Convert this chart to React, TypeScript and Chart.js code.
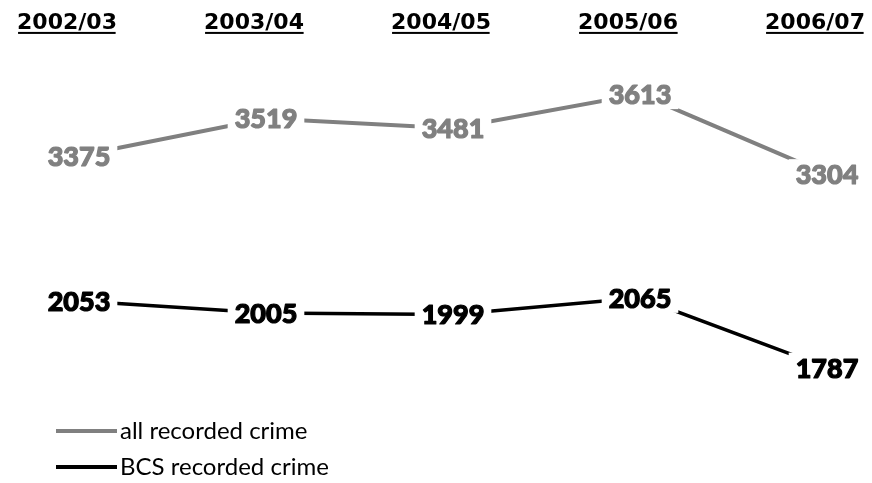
import React, { useEffect, useRef } from "react";
import { Chart, registerables } from "chart.js";

Chart.register(...registerables);

const categories = ["2002/03", "2003/04", "2004/05", "2005/06", "2006/07"];
const allRecordedCrime = [3375, 3519, 3481, 3613, 3304];
const bcsRecordedCrime = [2053, 2005, 1999, 2065, 1787];
const seriesNames = ["all recorded crime", "BCS recorded crime"];

const GRAY = "#808080";
const BLACK = "#000000";

const pointLabelPlugin = {
  id: "pointLabels",
  afterDatasetsDraw(chart: any) {
    const ctx = chart.ctx;
    ctx.save();
    ctx.font = "900 27px Lato";
    ctx.textAlign = "center";
    ctx.textBaseline = "alphabetic";
    chart.data.datasets.forEach((ds: any, i: number) => {
      const meta = chart.getDatasetMeta(i);
      meta.data.forEach((pt: any, j: number) => {
        const text = String(ds.data[j]);
        const w = ctx.measureText(text).width;
        ctx.fillStyle = "#ffffff";
        ctx.fillRect(pt.x - w / 2 - 7, pt.y - 15, w + 14, 30);
        ctx.fillStyle = ds.borderColor;
        ctx.strokeStyle = ds.borderColor;
        ctx.lineWidth = 1.2;
        ctx.lineJoin = "round";
        ctx.fillText(text, pt.x, pt.y + 10);
        ctx.strokeText(text, pt.x, pt.y + 10);
      });
    });
    ctx.restore();
  },
};

const underlinePlugin = {
  id: "tickUnderline",
  afterDraw(chart: any) {
    const sc = chart.scales.x;
    if (!sc || typeof sc.getLabelItems !== "function") return;
    const ctx = chart.ctx;
    const items = sc.getLabelItems();
    ctx.save();
    items.forEach((it: any) => {
      const o = it.options;
      const [tx, ty] = o.translation;
      ctx.font = it.font.string;
      ctx.textAlign = o.textAlign;
      ctx.textBaseline = o.textBaseline;
      const label = Array.isArray(it.label) ? it.label[0] : it.label;
      const m = ctx.measureText(label);
      const y = ty + (it.textOffset || 0) + m.actualBoundingBoxDescent + 1;
      ctx.fillStyle = "#000";
      ctx.fillRect(tx - m.actualBoundingBoxLeft, y, m.actualBoundingBoxLeft + m.actualBoundingBoxRight, 2);
    });
    ctx.restore();
  },
};

const legendPlugin = {
  id: "bottomLegend",
  afterDraw(chart: any) {
    const ctx = chart.ctx;
    const rows = [431, 467];
    ctx.save();
    chart.data.datasets.forEach((ds: any, i: number) => {
      const y = rows[i];
      ctx.strokeStyle = ds.borderColor;
      ctx.lineWidth = 4;
      ctx.beginPath();
      ctx.moveTo(56, y);
      ctx.lineTo(117, y);
      ctx.stroke();
      ctx.font = "24px Lato";
      ctx.fillStyle = "#000";
      ctx.textAlign = "left";
      ctx.textBaseline = "middle";
      ctx.fillText(ds.label, 120, y);
    });
    ctx.restore();
  },
};

export default function App() {
  const ref = useRef<HTMLCanvasElement | null>(null);
  useEffect(() => {
    document.body.style.margin = "0";
    const canvas = ref.current;
    if (!canvas) return;
    const chart = new Chart(canvas, {
      type: "line",
      data: {
        labels: categories,
        datasets: [
          {
            label: seriesNames[0],
            data: allRecordedCrime,
            borderColor: GRAY,
            backgroundColor: GRAY,
            borderWidth: 4,
            pointRadius: 0,
            tension: 0,
            yAxisID: "y",
          },
          {
            label: seriesNames[1],
            data: bcsRecordedCrime,
            borderColor: BLACK,
            backgroundColor: BLACK,
            borderWidth: 3.5,
            pointRadius: 0,
            tension: 0,
            yAxisID: "y2",
          },
        ],
      },
      options: {
        animation: false,
        responsive: false,
        maintainAspectRatio: false,
        layout: { padding: { left: 79, right: 45, top: 9, bottom: 83 } },
        plugins: { legend: { display: false }, tooltip: { enabled: false } },
        scales: {
          x: {
            type: "category",
            position: "top",
            offset: false,
            grid: { display: false, drawTicks: false },
            border: { display: false },
            ticks: {
              font: { family: "DejaVu Sans", weight: "bold", size: 22 },
              color: "#000",
              padding: 1,
              labelOffset: -12,
              maxRotation: 0,
              autoSkip: false,
            },
            afterFit(s: any) {
              s.paddingLeft = 0;
              s.paddingRight = 0;
            },
          },
          y: { display: false, min: 2432, max: 3832 },
          y2: { display: false, min: 1658, max: 3103 },
        },
      },
      plugins: [pointLabelPlugin, underlinePlugin, legendPlugin],
    } as any);
    return () => chart.destroy();
  }, []);
  return <canvas ref={ref} width={872} height={483} style={{ display: "block" }} />;
}
